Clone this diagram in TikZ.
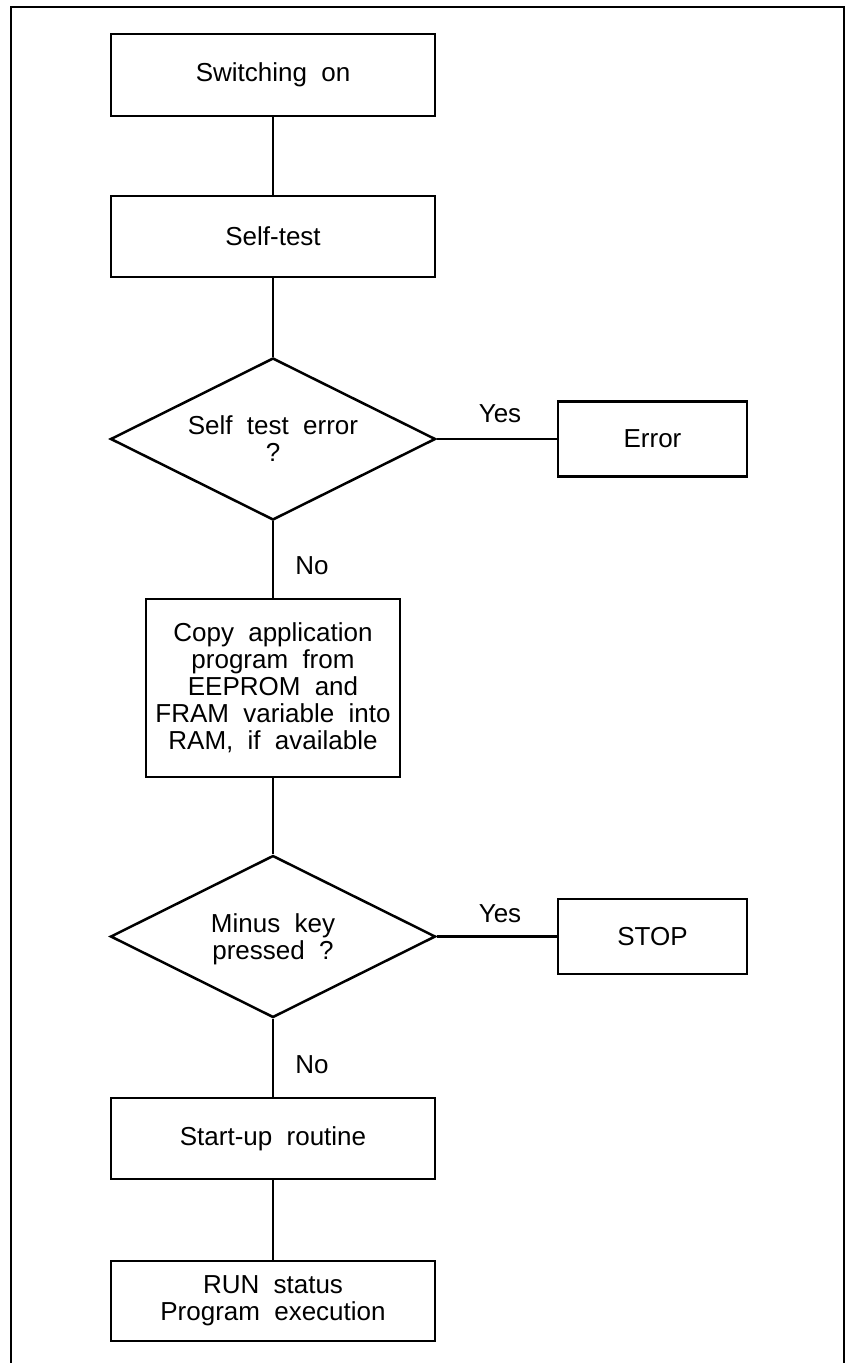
\documentclass[tikz,border=0pt]{standalone}
\usepackage{fontspec}
\setmainfont{Liberation Sans}
\usetikzlibrary{shapes.geometric}
\begin{document}
\begin{tikzpicture}[x=1pt,y=-1pt,
  txt/.style={font={\fontsize{26}{27}\selectfont\spaceskip=0.55em\relax}, align=center},
  box/.style={txt, draw, line width=2.5pt, rectangle, inner sep=0pt},
  dec/.style={txt, draw, line width=2.5pt, diamond, aspect=2, inner sep=0pt, minimum width=325pt, minimum height=162pt, text depth=0pt},
  conn/.style={line width=2.5pt},
  lbl/.style={font={\fontsize{26}{27}\selectfont}, anchor=base, inner sep=0pt}]
\useasboundingbox (0,0) rectangle (851,1363);
\draw[line width=1.5pt] (11,1363) -- (11,7) -- (844,7) -- (844,1363);

\node[box, minimum width=324pt, minimum height=82pt] (on) at (273,75) {Switching on};
\node[box, minimum width=324pt, minimum height=81pt] (st) at (273,236.5) {Self-test};
\node[dec] (d1) at (273,439) {Self test error\\?};
\node[box, minimum width=189pt, minimum height=75pt] (err) at (652.5,439) {Error};
\node[box, minimum width=254pt, minimum height=178pt] (cp) at (273,688) {Copy application\\program from\\EEPROM and\\FRAM variable into\\RAM, if available};
\node[dec] (d2) at (273,936.5) {Minus key\\pressed ?};
\node[box, minimum width=189pt, minimum height=75pt] (stop) at (652.5,936.5) {STOP};
\node[box, minimum width=324pt, minimum height=81pt] (su) at (273,1138.5) {Start-up routine};
\node[box, minimum width=324pt, minimum height=80pt] (run) at (273,1301) {RUN status\\Program execution};

\node[lbl] (y1) at (500,422) {Yes};
\node[lbl] (n1) at (312,574) {No};
\node[lbl] (y2) at (500,922) {Yes};
\node[lbl] (n2) at (312,1073) {No};

\draw[conn] (on) -- (st);
\draw[conn] (st) -- (d1);
\draw[conn] (d1.east) -- (err.west);
\draw[conn] (d1) -- (cp);
\draw[conn] (cp) -- (d2);
\draw[conn] (d2.east) -- (stop.west);
\draw[conn] (d2) -- (su);
\draw[conn] (su) -- (run);
\end{tikzpicture}
\end{document}
